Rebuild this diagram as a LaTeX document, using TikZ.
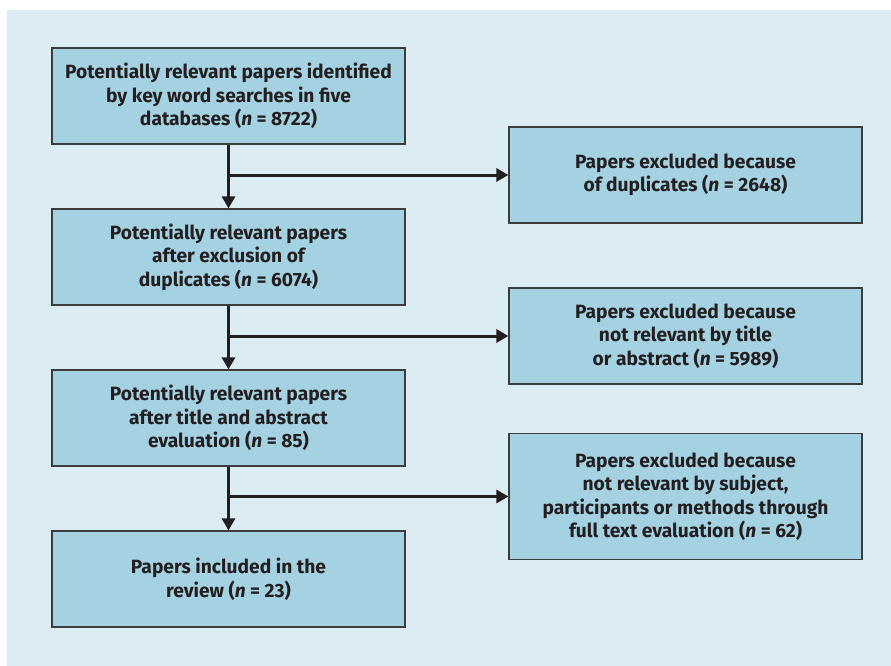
\documentclass[tikz,border=0pt]{standalone}
\usepackage{fontspec}
\setmainfont{Fira Sans}
\usetikzlibrary{arrows.meta}
\definecolor{panel}{HTML}{DCECF3}
\definecolor{boxfill}{HTML}{A5D2E3}
\definecolor{boxline}{HTML}{3C3C3C}
\definecolor{ink}{HTML}{231F20}
\tikzset{
  flowbox/.style={draw=boxline, line width=1.2pt, fill=boxfill, minimum width=353pt, minimum height=96pt,
    inner sep=0pt, align=center, text=ink, font=\fontsize{19.2}{23.5}\selectfont\bfseries},
  conn/.style={draw=ink, line width=3pt},
  arr/.style={conn, -{Triangle[length=12pt,width=13pt]}}
}
\begin{document}
\begin{tikzpicture}[x=1pt,y=-1pt]
\useasboundingbox (0,0) rectangle (891,666);
\fill[white] (0,0) rectangle (891,666);
\fill[panel] (7,10) rectangle (891,666);
\node[flowbox] (a) at (228.5,96) {Potentially relevant papers identified\\by key word searches in five\\databases (\textit{n} = 8722)};
\node[flowbox] (b) at (228.5,257) {Potentially relevant papers\\after exclusion of\\duplicates (\textit{n} = 6074)};
\node[flowbox] (c) at (228.5,418) {Potentially relevant papers\\after title and abstract\\evaluation (\textit{n} = 85)};
\node[flowbox] (d) at (228.5,579) {Papers included in the\\review (\textit{n} = 23)};
\node[flowbox] (r1) at (685.5,175) {Papers excluded because\\of duplicates (\textit{n} = 2648)};
\node[flowbox] (r2) at (685.5,336) {Papers excluded because\\not relevant by title\\or abstract (\textit{n} = 5989)};
\node[flowbox, minimum height=126pt] (r3) at (685.5,496.5) {Papers excluded because\\not relevant by subject,\\participants or methods through\\full text evaluation (\textit{n} = 62)};
\draw[arr] (a.south) -- (b.north);
\draw[arr] (b.south) -- (c.north);
\draw[arr] (c.south) -- (d.north);
\coordinate (j1) at (a.south |- r1.west);
\coordinate (j2) at (b.south |- r2.west);
\coordinate (j3) at (c.south |- r3.west);
\draw[arr] ([xshift=-1.5pt]j1) -- (r1.west);
\draw[arr] ([xshift=-1.5pt]j2) -- (r2.west);
\draw[arr] ([xshift=-1.5pt]j3) -- (r3.west);
\end{tikzpicture}
\end{document}
